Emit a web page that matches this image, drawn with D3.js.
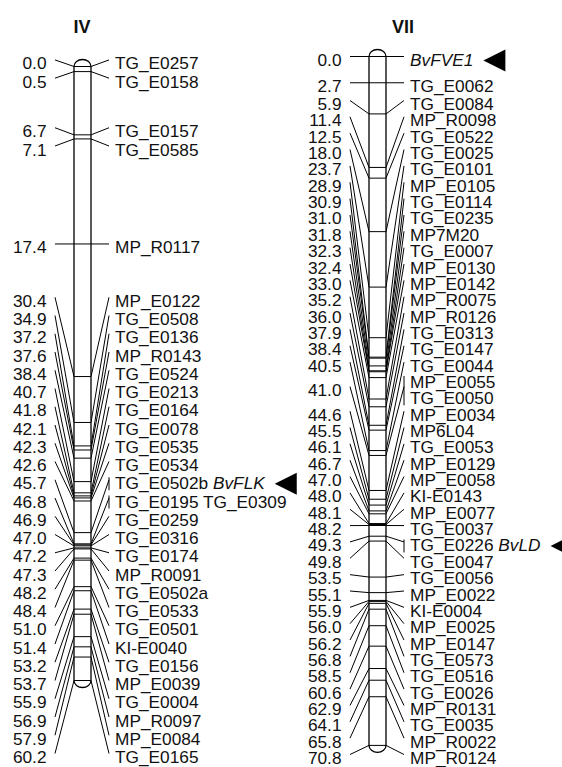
<!DOCTYPE html>
<html lang="en">
<head>
<meta charset="UTF-8">
<title>Linkage groups IV and VII</title>
<script src="https://cdn.jsdelivr.net/npm/d3@7"></script>
<style>
    body { margin: 0; background: #fff; }
    text { font-family: "Liberation Sans", Arial, sans-serif; fill: #111; }
    .title { font-weight: bold; font-size: 18px; }
    .lbl { font-size: 16px; }
    .gene { font-style: italic; }
</style>
</head>
<body>
<script>
// chromosome IV: positions (cM) and marker names
const posIV = [0.0, 0.5, 6.7, 7.1, 17.4, 30.4, 34.9, 37.2, 37.6, 38.4, 40.7, 41.8, 42.1, 42.3, 42.6,
    45.7, 46.8, 46.9, 47.0, 47.2, 47.3, 48.2, 48.4, 51.0, 51.4, 53.2, 53.7, 55.9, 56.9, 57.9, 60.2];
const namesIV = ["TG_E0257", "TG_E0158", "TG_E0157", "TG_E0585", "MP_R0117", "MP_E0122", "TG_E0508",
    "TG_E0136", "MP_R0143", "TG_E0524", "TG_E0213", "TG_E0164", "TG_E0078", "TG_E0535", "TG_E0534",
    "TG_E0502b BvFLK", "TG_E0195 TG_E0309", "TG_E0259", "TG_E0316", "TG_E0174", "MP_R0091",
    "TG_E0502a", "TG_E0533", "TG_E0501", "KI-E0040", "TG_E0156", "MP_E0039", "TG_E0004",
    "MP_R0097", "MP_E0084", "TG_E0165"];

// chromosome VII ("|" = markers on separate rows sharing one position)
const posVII = [0.0, 2.7, 5.9, 11.4, 12.5, 18.0, 23.7, 28.9, 30.9, 31.0, 31.8, 32.3, 32.4, 33.0, 35.2,
    36.0, 37.9, 38.4, 40.5, 41.0, 44.6, 45.5, 46.1, 46.7, 47.0, 48.0, 48.1, 48.2, 49.3, 49.8, 53.5,
    55.1, 55.9, 56.0, 56.2, 56.8, 58.5, 60.6, 62.9, 64.1, 65.8, 70.8];
const namesVII = ["BvFVE1", "TG_E0062", "TG_E0084", "MP_R0098", "TG_E0522", "TG_E0025", "TG_E0101",
    "MP_E0105", "TG_E0114", "TG_E0235", "MP7M20", "TG_E0007", "MP_E0130", "MP_E0142", "MP_R0075",
    "MP_R0126", "TG_E0313", "TG_E0147", "TG_E0044", "MP_E0055|TG_E0050", "MP_E0034", "MP6L04",
    "TG_E0053", "MP_E0129", "MP_E0058", "KI-E0143", "MP_E0077", "TG_E0037", "TG_E0226 BvLD",
    "TG_E0047", "TG_E0056", "MP_E0022", "KI-E0004", "MP_E0025", "MP_E0147", "TG_E0573",
    "TG_E0516", "TG_E0026", "MP_R0131", "TG_E0035", "MP_R0022", "MP_R0124"];

const genes = ["BvFLK", "BvFVE1", "BvLD"];

const W = 562, H = 767;
const barW = 17;
const sx = 1.08; // slight horizontal stretch of the text

const svg = d3.select("body").append("svg")
    .attr("width", W)
    .attr("height", H);

// push overlapping labels apart, keep them above maxY
function spreadRows(want, sp, maxY) {
    const cls = want.map(w => ({ rows: [w] }));
    const place = c => {
        const m = d3.mean(c.rows, (w, j) => w - j * sp);
        c.top = Math.min(m, maxY - (c.rows.length - 1) * sp);
    };
    cls.forEach(place);
    let i = 0;
    while (i < cls.length - 1) {
        const a = cls[i], b = cls[i + 1];
        if (a.top + a.rows.length * sp > b.top + 0.01) {
            a.rows = a.rows.concat(b.rows);
            cls.splice(i + 1, 1);
            place(a);
            i = Math.max(0, i - 1);
        } else i++;
    }
    return cls.flatMap(c => c.rows.map((w, j) => c.top + j * sp));
}

function drawChromosome(title, pos, names, barX, titleX, yRange, sp, maxY) {
    const y = d3.scaleLinear().domain([0, d3.max(pos)]).range(yRange);
    const g = svg.append("g");

    // rows for every locus
    const loci = pos.map((p, i) => ({ p, rows: names[i].split("|") }));
    const want = [];
    loci.forEach(l => l.rows.forEach((r, k) => want.push(y(l.p) + (k - (l.rows.length - 1) / 2) * sp)));
    const rowY = spreadRows(want, sp, maxY);
    let r = 0;
    loci.forEach(l => {
        l.rowY = rowY.slice(r, r + l.rows.length);
        r += l.rows.length;
        l.c = d3.mean(l.rowY);
        l.multi = l.rows.length > 1 || l.rows[0].includes(" ");
    });

    const xL = barX - 19, xR = barX + barW + 18;

    // connectors
    g.selectAll(".cl").data(loci).join("line")
        .attr("x1", xL).attr("y1", d => d.c)
        .attr("x2", barX).attr("y2", d => y(d.p))
        .attr("stroke", "#000").attr("stroke-width", 1);
    g.selectAll(".cr").data(loci).join("line")
        .attr("x1", barX + barW).attr("y1", d => y(d.p))
        .attr("x2", xR).attr("y2", d => d.c)
        .attr("stroke", "#000").attr("stroke-width", 1);

    // bar with rounded ends
    const y0 = y(0), y1 = y(d3.max(pos)), rx = barW / 2, ry = 7;
    g.append("path")
        .attr("d", `M${barX},${y0} L${barX},${y1} A${rx},${ry} 0 0 0 ${barX + barW},${y1}
                    L${barX + barW},${y0} A${rx},${ry} 0 0 0 ${barX},${y0} Z`)
        .attr("fill", "#fff").attr("stroke", "#000").attr("stroke-width", 1.3);

    g.selectAll(".tick").data(loci).join("line")
        .attr("x1", barX).attr("x2", barX + barW)
        .attr("y1", d => y(d.p)).attr("y2", d => y(d.p))
        .attr("stroke", "#000").attr("stroke-width", 1);

    // brackets for loci with several markers
    g.selectAll(".br").data(loci.filter(d => d.multi)).join("line")
        .attr("x1", xR).attr("x2", xR)
        .attr("y1", d => d.rowY[0] - 2.5)
        .attr("y2", d => d.rowY[d.rowY.length - 1] + 10.5)
        .attr("stroke", "#000").attr("stroke-width", 1);

    // cM values
    g.selectAll(".num").data(loci).join("text")
        .attr("class", "lbl")
        .attr("text-anchor", "end")
        .attr("transform", d => `translate(${barX - 27.5},${d.c + 9.5}) scale(${sx},1)`)
        .text(d => d.p.toFixed(1));

    // marker names
    const rows = loci.flatMap(l => l.rows.map((t, k) => ({ t, y: l.rowY[k] })));
    rows.forEach(row => {
        const t = g.append("text")
            .attr("class", "lbl")
            .attr("transform", `translate(${barX + barW + 24},${row.y + 9.5}) scale(${sx},1)`);
        const parts = row.t.split(" ");
        parts.forEach((p, k) => {
            t.append("tspan")
                .attr("class", genes.includes(p) ? "gene" : null)
                .text((k ? " " : "") + p);
        });
        if (parts.some(p => genes.includes(p))) {
            const end = barX + barW + 24 + t.node().getComputedTextLength() * sx;
            const tip = end + 10, cy = row.y + 4;
            g.append("path")
                .attr("d", `M${tip},${cy} L${tip + 22},${cy - 11} L${tip + 22},${cy + 11} Z`)
                .attr("fill", "#000");
        }
    });

    g.append("text")
        .attr("class", "title")
        .attr("x", titleX).attr("y", 33)
        .attr("text-anchor", "middle")
        .text(title);
}

drawChromosome("IV", posIV, namesIV, 74, 82, [66.5, 680.5], 18.25, 753.5);
drawChromosome("VII", posVII, namesVII, 369, 403, [56.5, 745.4], 16.35, 754.5);
</script>
</body>
</html>
